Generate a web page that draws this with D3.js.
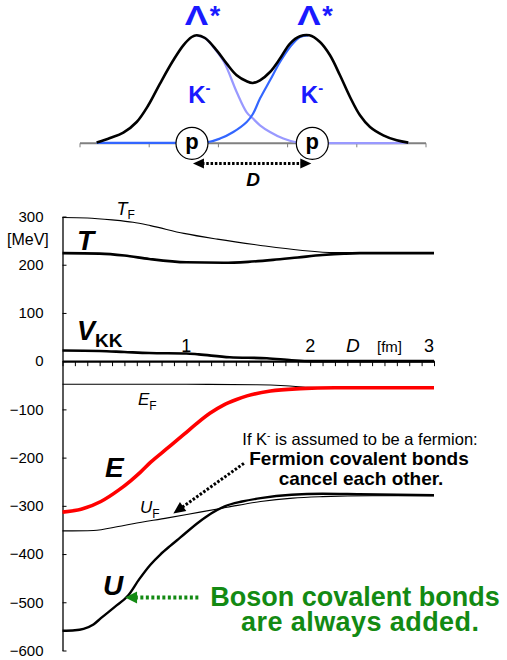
<!DOCTYPE html>
<html><head><meta charset="utf-8">
<script src="https://cdn.jsdelivr.net/npm/d3@7"></script>
<style>
body{margin:0;background:#fff}
svg{display:block}
text{font-family:Arial,"Liberation Sans",sans-serif}
</style>
</head><body>
<svg id="c" width="507" height="660"></svg>
<script>
// ---------- main chart data: D [fm] vs energy [MeV] ----------
const TF  = [[0,298],[0.2,297],[0.4,293],[0.57,288],[0.71,281],[0.98,265],[1.25,253],[1.6,240],[1.92,230],[2.2,225],[2.5,225],[3.0,225]];
const T   = [[0,224],[0.3,223],[0.5,219],[0.7,212],[1.0,205],[1.3,204],[1.5,206],[1.7,210],[1.9,215],[2.1,220],[2.4,224],[3.0,224]];
const VKK = [[0,22],[0.3,21],[0.5,19],[0.7,17],[1.0,16],[1.1,14],[1.35,8],[1.65,6],[1.85,2],[2.0,0],[3.0,0]];
const EF  = [[0,-48],[1.0,-48],[1.57,-49],[1.8,-51],[1.98,-54],[2.15,-55],[3.0,-55]];
const E   = [[0,-313],[0.15,-307],[0.31,-291],[0.45,-268],[0.55,-248],[0.63,-230],[0.71,-210],[0.85,-180],[0.98,-152],[1.08,-130],[1.19,-108],[1.3,-91],[1.4,-80],[1.49,-72],[1.68,-62],[1.92,-57],[2.2,-55],[3.0,-55]];
const UF  = [[0,-352],[0.25,-351],[0.45,-343],[0.57,-337],[0.85,-325],[1.11,-313],[1.33,-303],[1.6,-291],[1.86,-284],[2.1,-281],[2.5,-279],[3.0,-279]];
const U   = [[0,-559],[0.1,-558],[0.17,-555],[0.25,-546],[0.31,-533],[0.42,-510],[0.53,-486],[0.62,-452],[0.71,-422],[0.79,-401],[0.87,-383],[0.95,-366],[1.1,-334],[1.2,-316],[1.31,-301],[1.45,-291],[1.6,-284],[1.85,-277],[2.1,-275],[2.4,-276],[3.0,-278]];
const yTicks = [300,200,100,0,-100,-200,-300,-400,-500,-600];
const xTickLabels = [1,2,3];

// ---------- top diagram data (position, density) ----------
const densityTotal = [[0.241,0.7],[0.434,5.3],[0.626,10.7],[0.819,21.3],[0.987,38],[1.156,59.7],[1.348,83],[1.493,98],[1.614,106.3],[1.686,108],[1.806,105.3],[1.975,93],[2.12,79.7],[2.264,68],[2.409,62],[2.496,60.3],[2.601,63],[2.746,71.3],[2.89,84.7],[3.035,99.7],[3.179,107],[3.314,108],[3.468,101.3],[3.613,88],[3.757,68],[3.902,46.3],[4.046,28],[4.191,16.3],[4.383,8],[4.577,3],[4.744,0.7]];
const densityLeft  = [[1.686,108],[1.806,105.3],[1.926,96.3],[2.081,81.3],[2.264,51.3],[2.409,31],[2.496,25],[2.601,18],[2.746,11.3],[2.938,4.7],[3.107,1.3],[3.251,0.5],[4.744,0.5]];
const densityRight = [[0.241,0.5],[1.373,0.5],[1.854,1.3],[2.023,4.7],[2.215,11.3],[2.409,21.3],[2.496,29],[2.601,44.7],[2.746,63],[2.89,81.3],[3.035,96.3],[3.179,106.3],[3.3,108]];
const protons = [1.618, 3.357];
const peaks = [1.686, 3.314];
const diagramTicks = [0,1,2,3,4,5];

const svg = d3.select("#c");

// ================= TOP DIAGRAM =================
const dx = d3.scaleLinear([0,5],[80,426]);
const dy = d3.scaleLinear([0,110],[143.3,33.3]);
const dline = d3.line().x(d=>dx(d[0])).y(d=>dy(d[1])).curve(d3.curveCatmullRom);

const gTop = svg.append("g");
gTop.append("line").attr("x1",dx(0)).attr("x2",dx(5)).attr("y1",dy(0)).attr("y2",dy(0))
  .attr("stroke","#808080").attr("stroke-width",2);
gTop.selectAll("line.tk").data(diagramTicks).join("line").attr("class","tk")
  .attr("x1",d=>dx(d)).attr("x2",d=>dx(d)).attr("y1",dy(0)).attr("y2",dy(0)+4)
  .attr("stroke","#808080").attr("stroke-width",1);
gTop.append("path").attr("d",dline(densityLeft)).attr("fill","none").attr("stroke","#9999ff").attr("stroke-width",2.2);
gTop.append("path").attr("d",dline(densityRight)).attr("fill","none").attr("stroke","#3366ff").attr("stroke-width",2.2);
gTop.append("path").attr("d",dline(densityTotal)).attr("fill","none").attr("stroke","#000").attr("stroke-width",2.6);

gTop.selectAll("circle.p").data(protons).join("circle").attr("class","p")
  .attr("cx",d=>dx(d)).attr("cy",dy(0)).attr("r",16)
  .attr("fill","#fff").attr("stroke","#000").attr("stroke-width",1.2);
gTop.selectAll("text.p").data(protons).join("text").attr("class","p")
  .attr("x",d=>dx(d)).attr("y",dy(0)+6).attr("text-anchor","middle")
  .attr("font-size",22).attr("font-weight","bold").text("p");

// Lambda* labels and K- labels
peaks.forEach(pk=>{
  const cx = dx(pk);
  gTop.append("text").attr("transform",`translate(${cx-12},24.5) scale(1.3,1)`).attr("font-size",27).attr("font-weight","bold")
    .attr("fill","#1a1aff").text("Λ");
  gTop.append("text").attr("x",cx+13).attr("y",24.5).attr("font-size",27).attr("font-weight","bold")
    .attr("fill","#1a1aff").text("*");
  const k = gTop.append("text").attr("x",cx-8.5).attr("y",103).attr("font-size",24).attr("font-weight","bold").attr("fill","#1a1aff");
  k.append("tspan").text("K");
  k.append("tspan").attr("dy",-10).attr("font-size",15).text("-");
});

// D double arrow
function arrowHead(g, tip, dir, len, half, color){
  const [ux,uy]=dir; const bx=tip[0]-ux*len, by=tip[1]-uy*len;
  g.append("path").attr("d",`M${tip[0]},${tip[1]}L${bx-uy*half},${by+ux*half}L${bx+uy*half},${by-ux*half}Z`).attr("fill",color);
}
const ax1 = dx(protons[0])+1, ax2 = dx(protons[1])-1, ay = 163.5;
gTop.append("line").attr("x1",ax1+9).attr("x2",ax2-9).attr("y1",ay).attr("y2",ay)
  .attr("stroke","#000").attr("stroke-width",3).attr("stroke-dasharray","2.5,1.8");
arrowHead(gTop,[ax1,ay],[-1,0],11,5,"#000");
arrowHead(gTop,[ax2,ay],[1,0],11,5,"#000");
gTop.append("text").attr("x",253).attr("y",186).attr("text-anchor","middle").attr("font-size",19)
  .attr("font-weight","bold").attr("font-style","italic").text("D");

// ================= MAIN CHART =================
const x = d3.scaleLinear([0,3],[62.5,434]);
const y = d3.scaleLinear([-600,300],[650.5,216.5]);
const line = d3.line().x(d=>x(d[0])).y(d=>y(d[1])).curve(d3.curveMonotoneX);

// y axis
const yAxis = d3.axisLeft(y).tickValues(yTicks).tickSizeInner(-4).tickSizeOuter(0).tickPadding(19);
const gy = svg.append("g").attr("transform",`translate(${x(0)},0)`).call(yAxis);
gy.select(".domain").attr("stroke","#000").attr("stroke-width",1.3);
gy.selectAll(".tick line").attr("stroke","#000");
gy.selectAll(".tick text").attr("font-size",15).attr("fill","#000").attr("font-family","Arial,'Liberation Sans',sans-serif");
svg.append("text").attr("x",7).attr("y",245).attr("font-size",16).text("[MeV]");

// x axis at 0
const xAxis = d3.axisBottom(x).tickValues(d3.range(0,3.001,0.1)).tickSizeInner(5).tickSizeOuter(0).tickFormat("");
const gx = svg.append("g").attr("transform",`translate(0,${y(0)})`).call(xAxis);
gx.select(".domain").attr("stroke","#000").attr("stroke-width",2.2);
gx.selectAll(".tick line").attr("stroke","#000").attr("stroke-width",1);
svg.selectAll("text.xl").data(xTickLabels).join("text").attr("class","xl")
  .attr("x",d=>x(d)-(d===3?5:0)).attr("y",y(0)-9).attr("text-anchor","middle").attr("font-size",18).text(d=>d);
svg.append("text").attr("x",346).attr("y",y(0)-9).attr("font-size",19).attr("font-style","italic").text("D");
svg.append("text").attr("x",377).attr("y",y(0)-9).attr("font-size",15).text("[fm]");

// curves
const drawLine=(data,color,w)=>svg.append("path").attr("d",line(data)).attr("fill","none")
  .attr("stroke",color).attr("stroke-width",w).attr("stroke-linejoin","round");
drawLine(TF,"#000",1.1);
drawLine(T,"#000",2.6);
drawLine(VKK,"#000",2.6);
drawLine(EF,"#000",1.1);
drawLine(UF,"#000",1.1);
drawLine(U,"#000",2.4);
drawLine(E,"#ff0000",3.6);

// curve labels
function subLabel(xp, yp, main, sub, size, subSize, bold, subDy){
  const t = svg.append("text").attr("x",xp).attr("y",yp).attr("font-size",size).attr("font-style","italic");
  if(bold) t.attr("font-weight","bold");
  t.append("tspan").text(main);
  if(sub) t.append("tspan").attr("dy",subDy).attr("font-size",subSize).attr("font-style","normal").text(sub);
  return t;
}
subLabel(116.5,215,"T","F",18,12,false,4);
subLabel(77,250,"T",null,28,0,true,0);
subLabel(77,340,"V","KK",27,19,true,7);
subLabel(138,405,"E","F",17,12,false,5);
subLabel(105,477,"E",null,28,0,true,0);
subLabel(140,513,"U","F",17,12,false,5);
subLabel(103,595,"U",null,28,0,true,0);

// fermion annotation
const f1 = svg.append("text").attr("x",360).attr("y",445).attr("text-anchor","middle").attr("font-size",16.5);
f1.append("tspan").text("If K");
f1.append("tspan").attr("dy",-6).attr("font-size",10).text("-");
f1.append("tspan").attr("dy",6).text(" is assumed to be a fermion:");
svg.append("text").attr("x",359).attr("y",465).attr("text-anchor","middle").attr("font-size",19).attr("font-weight","bold").text("Fermion covalent bonds");
svg.append("text").attr("x",361).attr("y",485).attr("text-anchor","middle").attr("font-size",19).attr("font-weight","bold").text("cancel each other.");

// fermion arrow
{
  const tip=[x(0.895),y(-316)], tail=[x(1.465),y(-212)];
  const L=Math.hypot(tip[0]-tail[0],tip[1]-tail[1]); const u=[(tip[0]-tail[0])/L,(tip[1]-tail[1])/L];
  svg.append("line").attr("x1",tail[0]).attr("y1",tail[1]).attr("x2",tip[0]-u[0]*10).attr("y2",tip[1]-u[1]*10)
    .attr("stroke","#000").attr("stroke-width",3).attr("stroke-dasharray","2.5,1.8");
  arrowHead(svg,tip,u,12,5.5,"#000");
}

// boson annotation
const green="#138a13";
svg.append("text").attr("x",355).attr("y",606).attr("text-anchor","middle").attr("font-size",27).attr("font-weight","bold").attr("fill",green).text("Boson covalent bonds");
svg.append("text").attr("x",360).attr("y",631).attr("text-anchor","middle").attr("font-size",27).attr("font-weight","bold").attr("fill",green)
  .attr("textLength",238).attr("lengthAdjust","spacing").text("are always added.");
{
  const tip=[x(0.505),y(-490)], tailX=x(1.097);
  svg.append("line").attr("x1",tailX).attr("y1",tip[1]).attr("x2",tip[0]+10).attr("y2",tip[1])
    .attr("stroke",green).attr("stroke-width",4).attr("stroke-dasharray","3,2.5");
  arrowHead(svg,tip,[-1,0],12,6,green);
}
</script>
</body></html>
